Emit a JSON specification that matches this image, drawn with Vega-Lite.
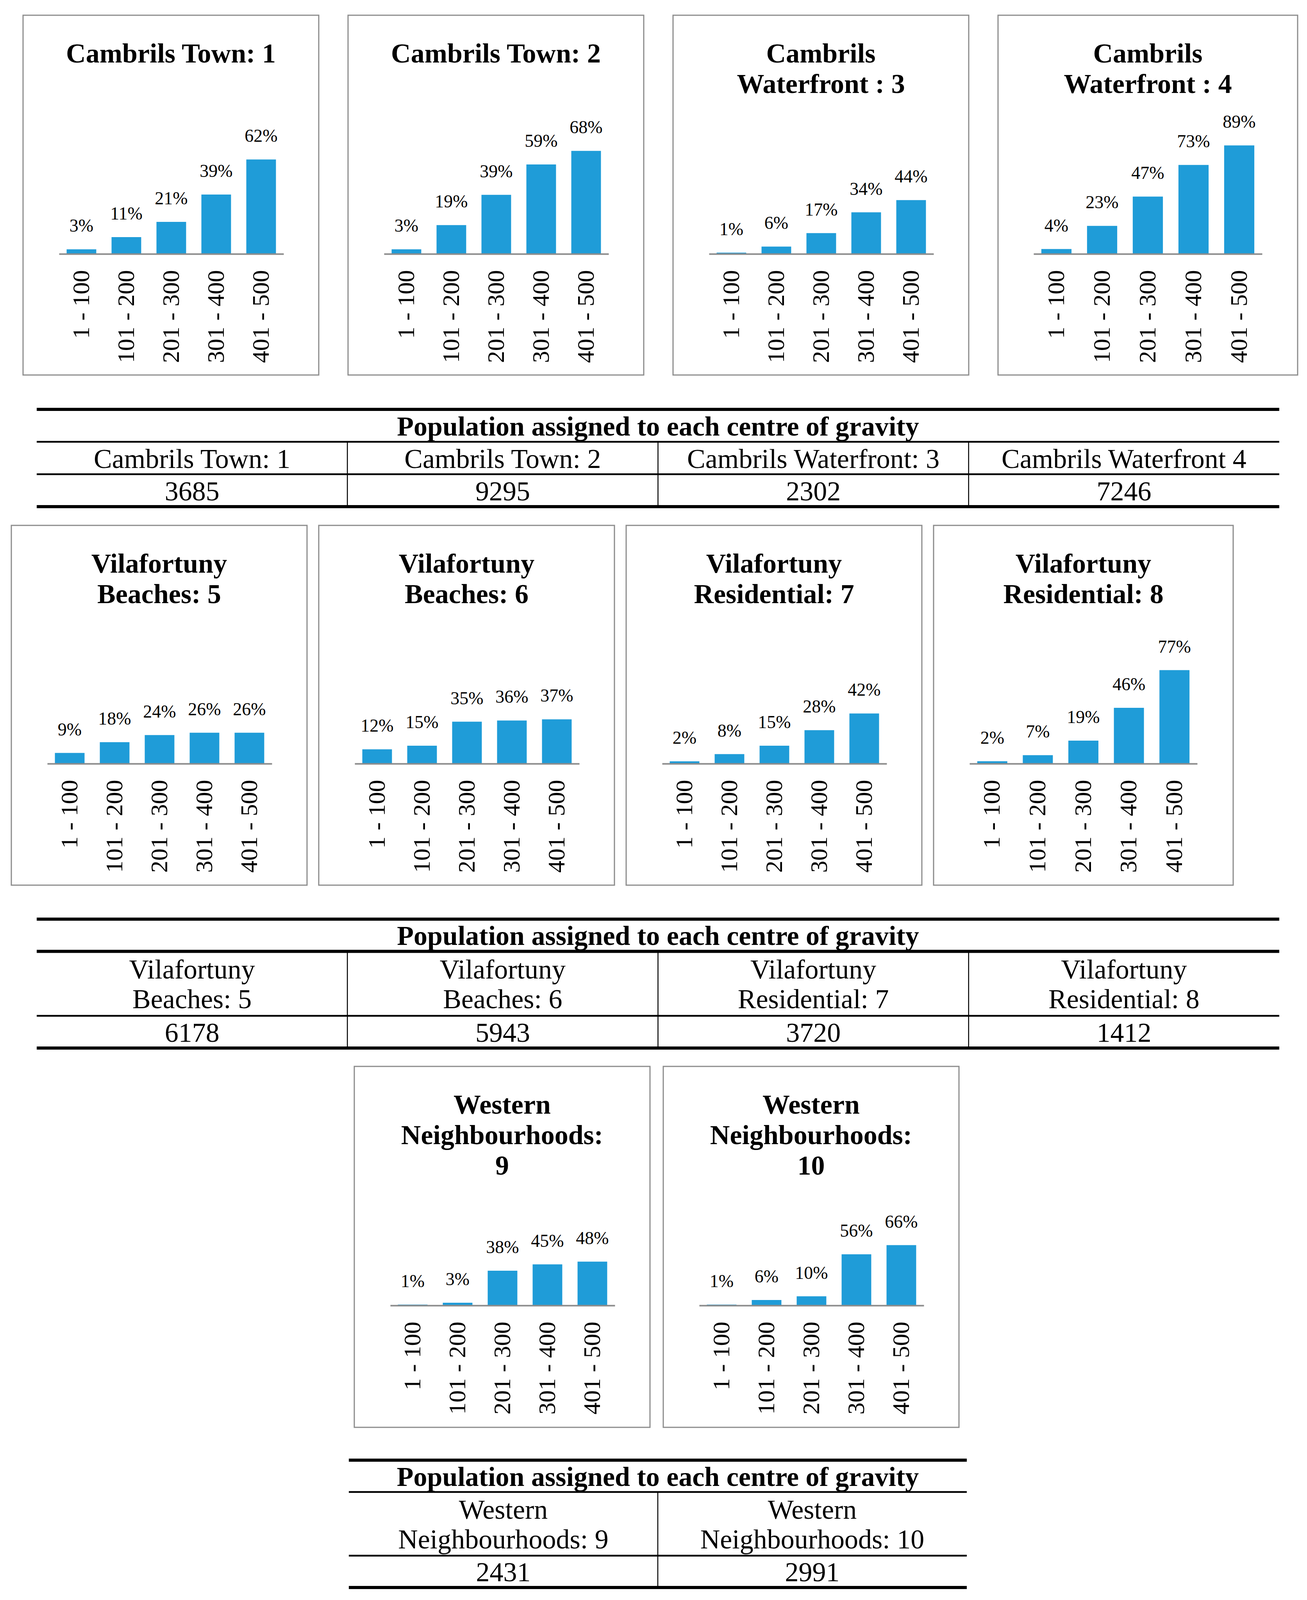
{
  "$schema": "https://vega.github.io/schema/vega-lite/v6.json",
  "background": "white",
  "padding": {"top": 33, "left": 0, "right": 0, "bottom": 0},
  "spacing": 0,
  "config": {
    "font": "Liberation Serif",
    "view": {"stroke": null},
    "title": {"font": "Liberation Serif", "fontSize": 70, "fontWeight": "bold", "lineHeight": 78, "color": "#000000", "anchor": "middle", "frame": "group"},
    "axis": {"labelFont": "Liberation Serif", "labelFontSize": 62, "labelColor": "#000000", "labelLimit": 2000, "labelOverlap": false, "labelBound": false, "grid": false},
    "text": {"font": "Liberation Serif", "color": "#000000"}
  },
  "datasets": {
    "bars": [
      {"panel": "Cambrils Town: 1", "range": "1 - 100", "share": 0.03},
      {"panel": "Cambrils Town: 1", "range": "101 - 200", "share": 0.11},
      {"panel": "Cambrils Town: 1", "range": "201 - 300", "share": 0.21},
      {"panel": "Cambrils Town: 1", "range": "301 - 400", "share": 0.39},
      {"panel": "Cambrils Town: 1", "range": "401 - 500", "share": 0.62},
      {"panel": "Cambrils Town: 2", "range": "1 - 100", "share": 0.03},
      {"panel": "Cambrils Town: 2", "range": "101 - 200", "share": 0.19},
      {"panel": "Cambrils Town: 2", "range": "201 - 300", "share": 0.39},
      {"panel": "Cambrils Town: 2", "range": "301 - 400", "share": 0.59},
      {"panel": "Cambrils Town: 2", "range": "401 - 500", "share": 0.68},
      {"panel": "Cambrils Waterfront: 3", "range": "1 - 100", "share": 0.01},
      {"panel": "Cambrils Waterfront: 3", "range": "101 - 200", "share": 0.06},
      {"panel": "Cambrils Waterfront: 3", "range": "201 - 300", "share": 0.17},
      {"panel": "Cambrils Waterfront: 3", "range": "301 - 400", "share": 0.34},
      {"panel": "Cambrils Waterfront: 3", "range": "401 - 500", "share": 0.44},
      {"panel": "Cambrils Waterfront: 4", "range": "1 - 100", "share": 0.04},
      {"panel": "Cambrils Waterfront: 4", "range": "101 - 200", "share": 0.23},
      {"panel": "Cambrils Waterfront: 4", "range": "201 - 300", "share": 0.47},
      {"panel": "Cambrils Waterfront: 4", "range": "301 - 400", "share": 0.73},
      {"panel": "Cambrils Waterfront: 4", "range": "401 - 500", "share": 0.89},
      {"panel": "Vilafortuny Beaches: 5", "range": "1 - 100", "share": 0.09},
      {"panel": "Vilafortuny Beaches: 5", "range": "101 - 200", "share": 0.18},
      {"panel": "Vilafortuny Beaches: 5", "range": "201 - 300", "share": 0.24},
      {"panel": "Vilafortuny Beaches: 5", "range": "301 - 400", "share": 0.26},
      {"panel": "Vilafortuny Beaches: 5", "range": "401 - 500", "share": 0.26},
      {"panel": "Vilafortuny Beaches: 6", "range": "1 - 100", "share": 0.12},
      {"panel": "Vilafortuny Beaches: 6", "range": "101 - 200", "share": 0.15},
      {"panel": "Vilafortuny Beaches: 6", "range": "201 - 300", "share": 0.35},
      {"panel": "Vilafortuny Beaches: 6", "range": "301 - 400", "share": 0.36},
      {"panel": "Vilafortuny Beaches: 6", "range": "401 - 500", "share": 0.37},
      {"panel": "Vilafortuny Residential: 7", "range": "1 - 100", "share": 0.02},
      {"panel": "Vilafortuny Residential: 7", "range": "101 - 200", "share": 0.08},
      {"panel": "Vilafortuny Residential: 7", "range": "201 - 300", "share": 0.15},
      {"panel": "Vilafortuny Residential: 7", "range": "301 - 400", "share": 0.28},
      {"panel": "Vilafortuny Residential: 7", "range": "401 - 500", "share": 0.42},
      {"panel": "Vilafortuny Residential: 8", "range": "1 - 100", "share": 0.02},
      {"panel": "Vilafortuny Residential: 8", "range": "101 - 200", "share": 0.07},
      {"panel": "Vilafortuny Residential: 8", "range": "201 - 300", "share": 0.19},
      {"panel": "Vilafortuny Residential: 8", "range": "301 - 400", "share": 0.46},
      {"panel": "Vilafortuny Residential: 8", "range": "401 - 500", "share": 0.77},
      {"panel": "Western Neighbourhoods: 9", "range": "1 - 100", "share": 0.01},
      {"panel": "Western Neighbourhoods: 9", "range": "101 - 200", "share": 0.03},
      {"panel": "Western Neighbourhoods: 9", "range": "201 - 300", "share": 0.38},
      {"panel": "Western Neighbourhoods: 9", "range": "301 - 400", "share": 0.45},
      {"panel": "Western Neighbourhoods: 9", "range": "401 - 500", "share": 0.48},
      {"panel": "Western Neighbourhoods: 10", "range": "1 - 100", "share": 0.01},
      {"panel": "Western Neighbourhoods: 10", "range": "101 - 200", "share": 0.06},
      {"panel": "Western Neighbourhoods: 10", "range": "201 - 300", "share": 0.10},
      {"panel": "Western Neighbourhoods: 10", "range": "301 - 400", "share": 0.56},
      {"panel": "Western Neighbourhoods: 10", "range": "401 - 500", "share": 0.66}
    ]
  },
  "vconcat": [
    {
      "spacing": 0,
      "hconcat": [
        {"width": 57, "height": 1, "data": {"values": [{}]}, "mark": {"type": "text", "text": ""}},
        {
          "spacing": 71,
          "hconcat": [
            {
              "width": 757, "height": 921,
              "view": {"stroke": "#8c8c8c", "strokeWidth": 3},
              "title": {"text": "Cambrils Town: 1", "offset": -136},
              "data": {"name": "bars"},
              "transform": [{"filter": {"field": "panel", "equal": "Cambrils Town: 1"}}],
              "encoding": {
                "x": {"field": "range", "type": "nominal", "sort": null, "scale": {"range": [92, 667], "paddingInner": 0.34, "paddingOuter": 0.17}, "axis": {"title": null, "orient": "bottom", "offset": -310, "labelAngle": 270, "ticks": false, "labelPadding": 41, "domainColor": "#8c8c8c", "domainWidth": 4, "zindex": 1}},
                "y": {"field": "share", "type": "quantitative", "scale": {"domain": [0, 1], "range": [611, 221], "nice": false}, "axis": null}
              },
              "layer": [
                {"mark": {"type": "bar", "color": "#1f9cd8"}},
                {"mark": {"type": "text", "baseline": "alphabetic", "dy": -45, "fontSize": 46}, "encoding": {"text": {"field": "share", "type": "quantitative", "format": ".0%"}}}
              ]
            },
            {
              "width": 757, "height": 921,
              "view": {"stroke": "#8c8c8c", "strokeWidth": 3},
              "title": {"text": "Cambrils Town: 2", "offset": -136},
              "data": {"name": "bars"},
              "transform": [{"filter": {"field": "panel", "equal": "Cambrils Town: 2"}}],
              "encoding": {
                "x": {"field": "range", "type": "nominal", "sort": null, "scale": {"range": [92, 667], "paddingInner": 0.34, "paddingOuter": 0.17}, "axis": {"title": null, "orient": "bottom", "offset": -310, "labelAngle": 270, "ticks": false, "labelPadding": 41, "domainColor": "#8c8c8c", "domainWidth": 4, "zindex": 1}},
                "y": {"field": "share", "type": "quantitative", "scale": {"domain": [0, 1], "range": [611, 223], "nice": false}, "axis": null}
              },
              "layer": [
                {"mark": {"type": "bar", "color": "#1f9cd8"}},
                {"mark": {"type": "text", "baseline": "alphabetic", "dy": -45, "fontSize": 46}, "encoding": {"text": {"field": "share", "type": "quantitative", "format": ".0%"}}}
              ]
            },
            {
              "width": 757, "height": 921,
              "view": {"stroke": "#8c8c8c", "strokeWidth": 3},
              "title": {"text": ["Cambrils", "Waterfront : 3"], "offset": -214},
              "data": {"name": "bars"},
              "transform": [{"filter": {"field": "panel", "equal": "Cambrils Waterfront: 3"}}],
              "encoding": {
                "x": {"field": "range", "type": "nominal", "sort": null, "scale": {"range": [92, 667], "paddingInner": 0.34, "paddingOuter": 0.17}, "axis": {"title": null, "orient": "bottom", "offset": -310, "labelAngle": 270, "ticks": false, "labelPadding": 41, "domainColor": "#8c8c8c", "domainWidth": 4, "zindex": 1}},
                "y": {"field": "share", "type": "quantitative", "scale": {"domain": [0, 1], "range": [611, 298], "nice": false}, "axis": null}
              },
              "layer": [
                {"mark": {"type": "bar", "color": "#1f9cd8"}},
                {"mark": {"type": "text", "baseline": "alphabetic", "dy": -45, "fontSize": 46}, "encoding": {"text": {"field": "share", "type": "quantitative", "format": ".0%"}}}
              ]
            },
            {
              "width": 767, "height": 921,
              "view": {"stroke": "#8c8c8c", "strokeWidth": 3},
              "title": {"text": ["Cambrils", "Waterfront : 4"], "offset": -214},
              "data": {"name": "bars"},
              "transform": [{"filter": {"field": "panel", "equal": "Cambrils Waterfront: 4"}}],
              "encoding": {
                "x": {"field": "range", "type": "nominal", "sort": null, "scale": {"range": [91, 676], "paddingInner": 0.34, "paddingOuter": 0.17}, "axis": {"title": null, "orient": "bottom", "offset": -310, "labelAngle": 270, "ticks": false, "labelPadding": 41, "domainColor": "#8c8c8c", "domainWidth": 4, "zindex": 1}},
                "y": {"field": "share", "type": "quantitative", "scale": {"domain": [0, 1], "range": [611, 299], "nice": false}, "axis": null}
              },
              "layer": [
                {"mark": {"type": "bar", "color": "#1f9cd8"}},
                {"mark": {"type": "text", "baseline": "alphabetic", "dy": -45, "fontSize": 46}, "encoding": {"text": {"field": "share", "type": "quantitative", "format": ".0%"}}}
              ]
            }
          ]
        }
      ]
    },
    {"width": 1, "height": 80, "data": {"values": [{}]}, "mark": {"type": "text", "text": ""}},
    {
      "spacing": 0,
      "hconcat": [
        {"width": 90, "height": 1, "data": {"values": [{}]}, "mark": {"type": "text", "text": ""}},
        {
          "width": 3181, "height": 249,
          "layer": [
            {
              "data": {"values": [{"r": 0, "kind": "thick"}, {"r": 1, "kind": "thin"}, {"r": 2, "kind": "thin"}, {"r": 3, "kind": "thick"}]},
              "mark": {"type": "rule", "color": "#000000"},
              "encoding": {
                "y": {"field": "r", "type": "quantitative", "scale": {"domain": [0, 3], "reverse": true, "nice": false, "zero": false}, "axis": null},
                "strokeWidth": {"field": "kind", "type": "ordinal", "scale": {"domain": ["thick", "thin"], "range": [8, 4.5]}, "legend": null}
              }
            },
            {
              "data": {"values": [{"col": "c2"}, {"col": "c3"}, {"col": "c4"}]},
              "mark": {"type": "rule", "color": "#000000", "strokeWidth": 2.5},
              "encoding": {
                "x": {"field": "col", "type": "nominal", "bandPosition": 0, "scale": {"domain": ["c1", "c2", "c3", "c4"], "paddingInner": 0, "paddingOuter": 0}, "axis": null},
                "y": {"datum": 1, "type": "quantitative", "scale": {"domain": [0, 3], "reverse": true, "nice": false, "zero": false}, "axis": null},
                "y2": {"datum": 3}
              }
            },
            {
              "data": {"values": [{"title": "Population assigned to each centre of gravity"}]},
              "mark": {"type": "text", "fontSize": 70, "fontWeight": "bold", "baseline": "middle", "dy": 4},
              "encoding": {
                "y": {"datum": 0.5, "type": "quantitative", "scale": {"domain": [0, 3], "reverse": true, "nice": false, "zero": false}, "axis": null},
                "text": {"field": "title"}
              }
            },
            {
              "data": {"values": [{"col": "c1", "header": "Cambrils Town: 1"}, {"col": "c2", "header": "Cambrils Town: 2"}, {"col": "c3", "header": "Cambrils Waterfront: 3"}, {"col": "c4", "header": "Cambrils Waterfront 4"}]},
              "mark": {"type": "text", "fontSize": 70, "baseline": "middle", "dy": 4},
              "encoding": {
                "x": {"field": "col", "type": "nominal", "scale": {"domain": ["c1", "c2", "c3", "c4"], "paddingInner": 0, "paddingOuter": 0}, "axis": null},
                "y": {"datum": 1.5, "type": "quantitative", "scale": {"domain": [0, 3], "reverse": true, "nice": false, "zero": false}, "axis": null},
                "text": {"field": "header"}
              }
            },
            {
              "data": {"values": [{"col": "c1", "population": 3685}, {"col": "c2", "population": 9295}, {"col": "c3", "population": 2302}, {"col": "c4", "population": 7246}]},
              "mark": {"type": "text", "fontSize": 70, "baseline": "middle", "dy": 4},
              "encoding": {
                "x": {"field": "col", "type": "nominal", "scale": {"domain": ["c1", "c2", "c3", "c4"], "paddingInner": 0, "paddingOuter": 0}, "axis": null},
                "y": {"datum": 2.5, "type": "quantitative", "scale": {"domain": [0, 3], "reverse": true, "nice": false, "zero": false}, "axis": null},
                "text": {"field": "population", "type": "quantitative", "format": "d"}
              }
            }
          ]
        }
      ]
    },
    {"width": 1, "height": 38, "data": {"values": [{}]}, "mark": {"type": "text", "text": ""}},
    {
      "spacing": 0,
      "hconcat": [
        {"width": 27, "height": 1, "data": {"values": [{}]}, "mark": {"type": "text", "text": ""}},
        {
          "spacing": 26,
          "hconcat": [
            {
              "width": 757, "height": 921,
              "view": {"stroke": "#8c8c8c", "strokeWidth": 3},
              "title": {"text": ["Vilafortuny", "Beaches: 5"], "offset": -214},
              "data": {"name": "bars"},
              "transform": [{"filter": {"field": "panel", "equal": "Vilafortuny Beaches: 5"}}],
              "encoding": {
                "x": {"field": "range", "type": "nominal", "sort": null, "scale": {"range": [92, 667], "paddingInner": 0.34, "paddingOuter": 0.17}, "axis": {"title": null, "orient": "bottom", "offset": -311, "labelAngle": 270, "ticks": false, "labelPadding": 41, "domainColor": "#8c8c8c", "domainWidth": 4, "zindex": 1}},
                "y": {"field": "share", "type": "quantitative", "scale": {"domain": [0, 1], "range": [610, 305], "nice": false}, "axis": null}
              },
              "layer": [
                {"mark": {"type": "bar", "color": "#1f9cd8"}},
                {"mark": {"type": "text", "baseline": "alphabetic", "dy": -45, "fontSize": 46}, "encoding": {"text": {"field": "share", "type": "quantitative", "format": ".0%"}}}
              ]
            },
            {
              "width": 757, "height": 921,
              "view": {"stroke": "#8c8c8c", "strokeWidth": 3},
              "title": {"text": ["Vilafortuny", "Beaches: 6"], "offset": -214},
              "data": {"name": "bars"},
              "transform": [{"filter": {"field": "panel", "equal": "Vilafortuny Beaches: 6"}}],
              "encoding": {
                "x": {"field": "range", "type": "nominal", "sort": null, "scale": {"range": [92, 667], "paddingInner": 0.34, "paddingOuter": 0.17}, "axis": {"title": null, "orient": "bottom", "offset": -311, "labelAngle": 270, "ticks": false, "labelPadding": 41, "domainColor": "#8c8c8c", "domainWidth": 4, "zindex": 1}},
                "y": {"field": "share", "type": "quantitative", "scale": {"domain": [0, 1], "range": [610, 303], "nice": false}, "axis": null}
              },
              "layer": [
                {"mark": {"type": "bar", "color": "#1f9cd8"}},
                {"mark": {"type": "text", "baseline": "alphabetic", "dy": -45, "fontSize": 46}, "encoding": {"text": {"field": "share", "type": "quantitative", "format": ".0%"}}}
              ]
            },
            {
              "width": 757, "height": 921,
              "view": {"stroke": "#8c8c8c", "strokeWidth": 3},
              "title": {"text": ["Vilafortuny", "Residential: 7"], "offset": -214},
              "data": {"name": "bars"},
              "transform": [{"filter": {"field": "panel", "equal": "Vilafortuny Residential: 7"}}],
              "encoding": {
                "x": {"field": "range", "type": "nominal", "sort": null, "scale": {"range": [92, 667], "paddingInner": 0.34, "paddingOuter": 0.17}, "axis": {"title": null, "orient": "bottom", "offset": -311, "labelAngle": 270, "ticks": false, "labelPadding": 41, "domainColor": "#8c8c8c", "domainWidth": 4, "zindex": 1}},
                "y": {"field": "share", "type": "quantitative", "scale": {"domain": [0, 1], "range": [610, 304], "nice": false}, "axis": null}
              },
              "layer": [
                {"mark": {"type": "bar", "color": "#1f9cd8"}},
                {"mark": {"type": "text", "baseline": "alphabetic", "dy": -45, "fontSize": 46}, "encoding": {"text": {"field": "share", "type": "quantitative", "format": ".0%"}}}
              ]
            },
            {
              "width": 767, "height": 921,
              "view": {"stroke": "#8c8c8c", "strokeWidth": 3},
              "title": {"text": ["Vilafortuny", "Residential: 8"], "offset": -214},
              "data": {"name": "bars"},
              "transform": [{"filter": {"field": "panel", "equal": "Vilafortuny Residential: 8"}}],
              "encoding": {
                "x": {"field": "range", "type": "nominal", "sort": null, "scale": {"range": [92, 675], "paddingInner": 0.34, "paddingOuter": 0.17}, "axis": {"title": null, "orient": "bottom", "offset": -311, "labelAngle": 270, "ticks": false, "labelPadding": 41, "domainColor": "#8c8c8c", "domainWidth": 4, "zindex": 1}},
                "y": {"field": "share", "type": "quantitative", "scale": {"domain": [0, 1], "range": [610, 299], "nice": false}, "axis": null}
              },
              "layer": [
                {"mark": {"type": "bar", "color": "#1f9cd8"}},
                {"mark": {"type": "text", "baseline": "alphabetic", "dy": -45, "fontSize": 46}, "encoding": {"text": {"field": "share", "type": "quantitative", "format": ".0%"}}}
              ]
            }
          ]
        }
      ]
    },
    {"width": 1, "height": 79, "data": {"values": [{}]}, "mark": {"type": "text", "text": ""}},
    {
      "spacing": 0,
      "hconcat": [
        {"width": 90, "height": 1, "data": {"values": [{}]}, "mark": {"type": "text", "text": ""}},
        {
          "width": 3181, "height": 330,
          "layer": [
            {
              "data": {"values": [{"r": 0, "kind": "thick"}, {"r": 1, "kind": "thick"}, {"r": 3, "kind": "thin"}, {"r": 4, "kind": "thick"}]},
              "mark": {"type": "rule", "color": "#000000"},
              "encoding": {
                "y": {"field": "r", "type": "quantitative", "scale": {"domain": [0, 4], "reverse": true, "nice": false, "zero": false}, "axis": null},
                "strokeWidth": {"field": "kind", "type": "ordinal", "scale": {"domain": ["thick", "thin"], "range": [8, 4.5]}, "legend": null}
              }
            },
            {
              "data": {"values": [{"col": "c2"}, {"col": "c3"}, {"col": "c4"}]},
              "mark": {"type": "rule", "color": "#000000", "strokeWidth": 2.5},
              "encoding": {
                "x": {"field": "col", "type": "nominal", "bandPosition": 0, "scale": {"domain": ["c1", "c2", "c3", "c4"], "paddingInner": 0, "paddingOuter": 0}, "axis": null},
                "y": {"datum": 1, "type": "quantitative", "scale": {"domain": [0, 4], "reverse": true, "nice": false, "zero": false}, "axis": null},
                "y2": {"datum": 4}
              }
            },
            {
              "data": {"values": [{"title": "Population assigned to each centre of gravity"}]},
              "mark": {"type": "text", "fontSize": 70, "fontWeight": "bold", "baseline": "middle", "dy": 4},
              "encoding": {
                "y": {"datum": 0.5, "type": "quantitative", "scale": {"domain": [0, 4], "reverse": true, "nice": false, "zero": false}, "axis": null},
                "text": {"field": "title"}
              }
            },
            {
              "data": {"values": [{"col": "c1", "header": "Vilafortuny\nBeaches: 5"}, {"col": "c2", "header": "Vilafortuny\nBeaches: 6"}, {"col": "c3", "header": "Vilafortuny\nResidential: 7"}, {"col": "c4", "header": "Vilafortuny\nResidential: 8"}]},
              "mark": {"type": "text", "fontSize": 70, "baseline": "middle", "dy": -34, "lineBreak": "\n", "lineHeight": 76},
              "encoding": {
                "x": {"field": "col", "type": "nominal", "scale": {"domain": ["c1", "c2", "c3", "c4"], "paddingInner": 0, "paddingOuter": 0}, "axis": null},
                "y": {"datum": 2, "type": "quantitative", "scale": {"domain": [0, 4], "reverse": true, "nice": false, "zero": false}, "axis": null},
                "text": {"field": "header"}
              }
            },
            {
              "data": {"values": [{"col": "c1", "population": 6178}, {"col": "c2", "population": 5943}, {"col": "c3", "population": 3720}, {"col": "c4", "population": 1412}]},
              "mark": {"type": "text", "fontSize": 70, "baseline": "middle", "dy": 4},
              "encoding": {
                "x": {"field": "col", "type": "nominal", "scale": {"domain": ["c1", "c2", "c3", "c4"], "paddingInner": 0, "paddingOuter": 0}, "axis": null},
                "y": {"datum": 3.5, "type": "quantitative", "scale": {"domain": [0, 4], "reverse": true, "nice": false, "zero": false}, "axis": null},
                "text": {"field": "population", "type": "quantitative", "format": "d"}
              }
            }
          ]
        }
      ]
    },
    {"width": 1, "height": 37, "data": {"values": [{}]}, "mark": {"type": "text", "text": ""}},
    {
      "spacing": 0,
      "hconcat": [
        {"width": 905, "height": 1, "data": {"values": [{}]}, "mark": {"type": "text", "text": ""}},
        {
          "spacing": 30,
          "hconcat": [
            {
              "width": 757, "height": 924,
              "view": {"stroke": "#8c8c8c", "strokeWidth": 3},
              "title": {"text": ["Western", "Neighbourhoods:", "9"], "offset": -292},
              "data": {"name": "bars"},
              "transform": [{"filter": {"field": "panel", "equal": "Western Neighbourhoods: 9"}}],
              "encoding": {
                "x": {"field": "range", "type": "nominal", "sort": null, "scale": {"range": [92, 667], "paddingInner": 0.34, "paddingOuter": 0.17}, "axis": {"title": null, "orient": "bottom", "offset": -312, "labelAngle": 270, "ticks": false, "labelPadding": 41, "domainColor": "#8c8c8c", "domainWidth": 4, "zindex": 1}},
                "y": {"field": "share", "type": "quantitative", "scale": {"domain": [0, 1], "range": [612, 378], "nice": false}, "axis": null}
              },
              "layer": [
                {"mark": {"type": "bar", "color": "#1f9cd8"}},
                {"mark": {"type": "text", "baseline": "alphabetic", "dy": -45, "fontSize": 46}, "encoding": {"text": {"field": "share", "type": "quantitative", "format": ".0%"}}}
              ]
            },
            {
              "width": 757, "height": 924,
              "view": {"stroke": "#8c8c8c", "strokeWidth": 3},
              "title": {"text": ["Western", "Neighbourhoods:", "10"], "offset": -292},
              "data": {"name": "bars"},
              "transform": [{"filter": {"field": "panel", "equal": "Western Neighbourhoods: 10"}}],
              "encoding": {
                "x": {"field": "range", "type": "nominal", "sort": null, "scale": {"range": [92, 667], "paddingInner": 0.34, "paddingOuter": 0.17}, "axis": {"title": null, "orient": "bottom", "offset": -312, "labelAngle": 270, "ticks": false, "labelPadding": 41, "domainColor": "#8c8c8c", "domainWidth": 4, "zindex": 1}},
                "y": {"field": "share", "type": "quantitative", "scale": {"domain": [0, 1], "range": [612, 378], "nice": false}, "axis": null}
              },
              "layer": [
                {"mark": {"type": "bar", "color": "#1f9cd8"}},
                {"mark": {"type": "text", "baseline": "alphabetic", "dy": -45, "fontSize": 46}, "encoding": {"text": {"field": "share", "type": "quantitative", "format": ".0%"}}}
              ]
            }
          ]
        }
      ]
    },
    {"width": 1, "height": 76, "data": {"values": [{}]}, "mark": {"type": "text", "text": ""}},
    {
      "spacing": 0,
      "hconcat": [
        {"width": 889, "height": 1, "data": {"values": [{}]}, "mark": {"type": "text", "text": ""}},
        {
          "width": 1582, "height": 326,
          "layer": [
            {
              "data": {"values": [{"r": 0, "kind": "thick"}, {"r": 1, "kind": "thin"}, {"r": 3, "kind": "thin"}, {"r": 4, "kind": "thick"}]},
              "mark": {"type": "rule", "color": "#000000"},
              "encoding": {
                "y": {"field": "r", "type": "quantitative", "scale": {"domain": [0, 4], "reverse": true, "nice": false, "zero": false}, "axis": null},
                "strokeWidth": {"field": "kind", "type": "ordinal", "scale": {"domain": ["thick", "thin"], "range": [8, 4.5]}, "legend": null}
              }
            },
            {
              "data": {"values": [{"col": "c2"}]},
              "mark": {"type": "rule", "color": "#000000", "strokeWidth": 2.5},
              "encoding": {
                "x": {"field": "col", "type": "nominal", "bandPosition": 0, "scale": {"domain": ["c1", "c2"], "paddingInner": 0, "paddingOuter": 0}, "axis": null},
                "y": {"datum": 1, "type": "quantitative", "scale": {"domain": [0, 4], "reverse": true, "nice": false, "zero": false}, "axis": null},
                "y2": {"datum": 4}
              }
            },
            {
              "data": {"values": [{"title": "Population assigned to each centre of gravity"}]},
              "mark": {"type": "text", "fontSize": 70, "fontWeight": "bold", "baseline": "middle", "dy": 4},
              "encoding": {
                "y": {"datum": 0.5, "type": "quantitative", "scale": {"domain": [0, 4], "reverse": true, "nice": false, "zero": false}, "axis": null},
                "text": {"field": "title"}
              }
            },
            {
              "data": {"values": [{"col": "c1", "header": "Western\nNeighbourhoods: 9"}, {"col": "c2", "header": "Western\nNeighbourhoods: 10"}]},
              "mark": {"type": "text", "fontSize": 70, "baseline": "middle", "dy": -34, "lineBreak": "\n", "lineHeight": 76},
              "encoding": {
                "x": {"field": "col", "type": "nominal", "scale": {"domain": ["c1", "c2"], "paddingInner": 0, "paddingOuter": 0}, "axis": null},
                "y": {"datum": 2, "type": "quantitative", "scale": {"domain": [0, 4], "reverse": true, "nice": false, "zero": false}, "axis": null},
                "text": {"field": "header"}
              }
            },
            {
              "data": {"values": [{"col": "c1", "population": 2431}, {"col": "c2", "population": 2991}]},
              "mark": {"type": "text", "fontSize": 70, "baseline": "middle", "dy": 4},
              "encoding": {
                "x": {"field": "col", "type": "nominal", "scale": {"domain": ["c1", "c2"], "paddingInner": 0, "paddingOuter": 0}, "axis": null},
                "y": {"datum": 3.5, "type": "quantitative", "scale": {"domain": [0, 4], "reverse": true, "nice": false, "zero": false}, "axis": null},
                "text": {"field": "population", "type": "quantitative", "format": "d"}
              }
            }
          ]
        }
      ]
    }
  ]
}
